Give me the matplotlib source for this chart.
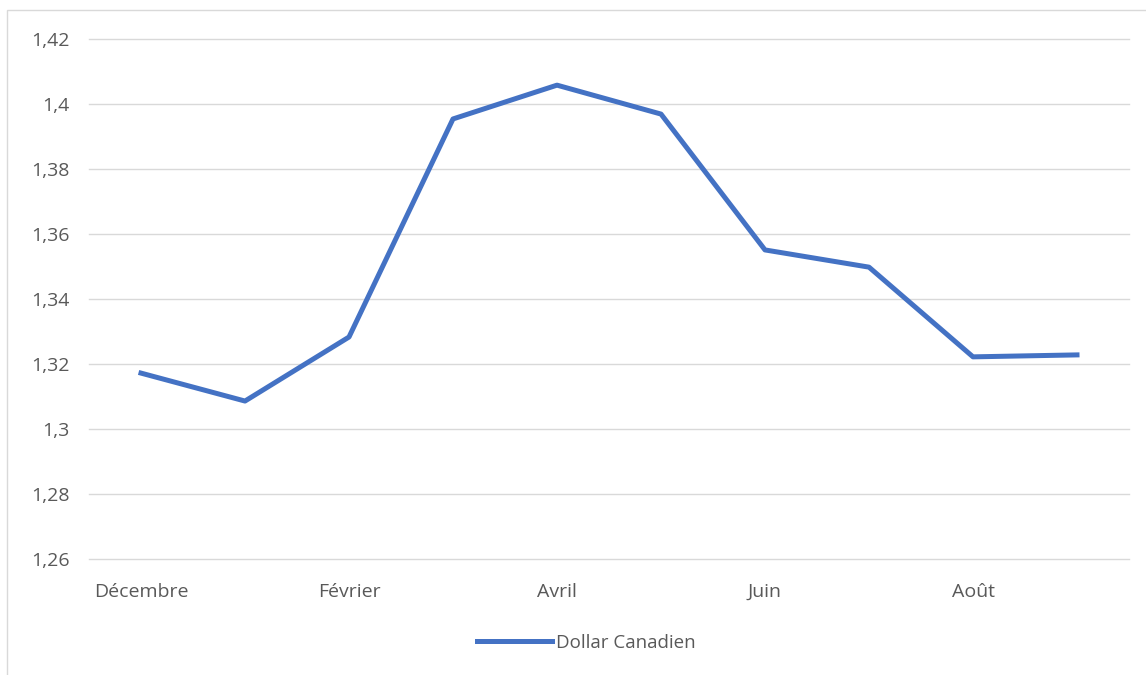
import matplotlib.pyplot as plt
from matplotlib.patches import Rectangle
from matplotlib.ticker import FuncFormatter

plt.rcParams['font.family'] = ['Open Sans', 'DejaVu Sans']

mois = ['Décembre', 'Janvier', 'Février', 'Mars', 'Avril', 'Mai',
        'Juin', 'Juillet', 'Août', 'Septembre']
cad = [1.3172, 1.3086, 1.3283, 1.3954, 1.4058, 1.3969,
       1.3551, 1.3498, 1.3222, 1.3228]
y_ticks = [1.26, 1.28, 1.30, 1.32, 1.34, 1.36, 1.38, 1.40, 1.42]

gris = '#595959'

fig = plt.figure(figsize=(11.46, 6.75), dpi=100)
ax = fig.add_axes([89 / 1146, 116 / 675, 1040 / 1146, 520 / 675])

# cadre du graphique
fig.patches.append(Rectangle((7 / 1146, -0.1), 1.2, (665 / 675) + 0.1,
                             transform=fig.transFigure, fill=False,
                             edgecolor='#D9D9D9', linewidth=1))

x = list(range(len(mois)))
ax.plot(x, cad, color='#4472C4', linewidth=3.6, label='Dollar Canadien',
        solid_joinstyle='round')

ax.set_xlim(-0.5, len(mois) - 0.5)
ax.set_ylim(1.26, 1.42)
ax.set_yticks(y_ticks)
ax.yaxis.set_major_formatter(FuncFormatter(
    lambda v, p: f"{v:.2f}".rstrip('0').rstrip('.').replace('.', ',')))
ax.set_xticks(x[::2])
ax.set_xticklabels(mois[::2])

ax.grid(axis='y', color='#D9D9D9', linewidth=1.0)
for gl in ax.get_ygridlines():
    gl.set_clip_on(False)
ax.set_axisbelow(True)
for s in ax.spines.values():
    s.set_visible(False)
ax.tick_params(axis='both', length=0, colors=gris, labelsize=14)
ax.tick_params(axis='y', pad=14)
ax.tick_params(axis='x', pad=17)

leg = ax.legend(loc='center', bbox_to_anchor=(586 / 1146, 32 / 675),
                bbox_transform=fig.transFigure, frameon=False, fontsize=13.5,
                handlelength=4.0, handletextpad=0.2)
for t in leg.get_texts():
    t.set_color(gris)

fig.savefig('out.png', dpi=100)
